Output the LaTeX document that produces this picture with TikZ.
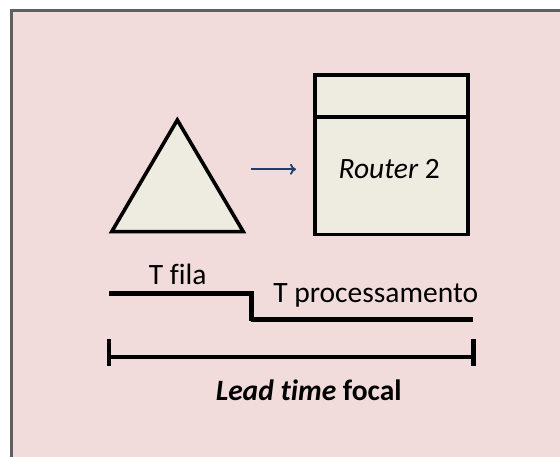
\documentclass[tikz,border=0pt]{standalone}
\usepackage{fontspec}
\setmainfont{Carlito}[Ligatures={NoCommon}]
\usetikzlibrary{arrows.meta}
\definecolor{panelpink}{HTML}{F2DCDB}
\definecolor{panelgray}{HTML}{5F5F5F}
\definecolor{shapefill}{HTML}{EEECE1}
\definecolor{flowblue}{HTML}{1F3D6B}
\tikzset{
  stage/.style={draw=black, line width=3.6pt, fill=shapefill, line join=miter},
  timeline/.style={draw=black, line width=4.4pt},
  flowarrow/.style={draw=flowblue, line width=1.8pt, -{To[length=6pt,width=11pt]}},
  lbl/.style={inner sep=0pt, anchor=base, font=\fontsize{29.5}{34}\selectfont}
}
\begin{document}
\begin{tikzpicture}[x=1pt,y=-1pt]
  \useasboundingbox (0,0) rectangle (560,457);
  \fill[white] (0,0) rectangle (560,457);
  % panel with its grey frame on the two visible sides
  \fill[panelpink] (11.7,10.7) rectangle (562,459);
  \draw[panelgray, line width=3.5pt] (11.7,462) -- (11.7,10.7) -- (565,10.7);

  % queue (triangle)
  \coordinate (qtop) at (177.3,120);
  \coordinate (qleft) at (111.7,231.7);
  \coordinate (qright) at (243.3,231.7);
  \path[stage] (qtop) -- (qright) -- (qleft) -- cycle;

  % router box with its header strip
  \node[stage, rectangle, minimum width=152.7pt, minimum height=159.4pt,
        inner sep=0pt, anchor=north west] (router) at (313.3,73.3) {};
  \coordinate (divl) at (313.3,117.3);
  \coordinate (divr) at (466,117.3);
  \draw[black, line width=3.6pt] (divl) -- (divr);
  \node[lbl] (rname) at (389.2,179) {\itshape Router\upshape\ 2};

  % flow from queue to router
  \coordinate (fa) at (251,169.3);
  \coordinate (fb) at (296,169.3);
  \draw[flowarrow] (fa) -- (fb);

  % waiting and processing times
  \coordinate (s0) at (109,293.7);
  \coordinate (s1) at (251.3,293.7);
  \coordinate (s2) at (251.3,321);
  \coordinate (s3) at (473.3,319.5);
  \draw[timeline] (s0) -- (s1) -- (s2);
  \draw[timeline] (251.3,319.5) -- (s3);
  \node[lbl] (tfila) at (177.7,284.3) {T fila};
  \node[lbl] (tproc) at (375.7,302.3) {T processamento};

  % lead time span
  \coordinate (la) at (109,356.7);
  \coordinate (lb) at (473.3,356.7);
  \draw[timeline] (la) -- (lb);
  \draw[timeline] (109,339.3) -- (109,365.5);
  \draw[timeline] (473.3,339.3) -- (473.3,365.5);
  \node[lbl] (lead) at (308.7,400.7) {\bfseries\itshape Lead time\upshape\ focal};
\end{tikzpicture}
\end{document}
